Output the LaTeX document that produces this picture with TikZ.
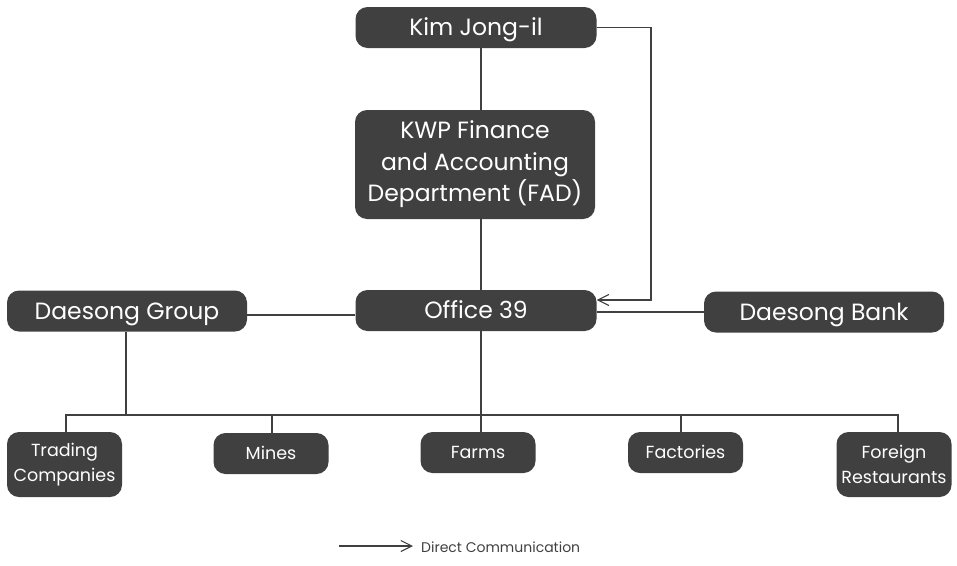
\documentclass[tikz,border=0pt]{standalone}
\usepackage{fontspec}
\setmainfont{Poppins}
\usetikzlibrary{arrows.meta}
\definecolor{boxgray}{HTML}{404040}
\definecolor{linegray}{HTML}{404040}
\begin{document}
\begin{tikzpicture}[x=1pt,y=-1pt,
  box/.style={fill=boxgray, rounded corners=12pt, text=white, align=center, inner sep=0pt,
    font=\fontsize{23.5}{31.5}\selectfont},
  bigbox/.style={box, text height=16.5pt, text depth=0pt, minimum width=241pt, minimum height=41pt},
  smallbox/.style={box, minimum width=115pt, font=\fontsize{17.5}{25.5}\selectfont},
  smallone/.style={smallbox, text height=12.3pt, text depth=0pt, minimum height=41pt},
  conn/.style={draw=linegray, line width=1.2pt},
  dircomm/.style={conn, -{Straight Barb[length=11pt,width=11pt,line width=1.1pt]}}]
\useasboundingbox (0,0) rectangle (957,565);

\node[bigbox] (kim) at (476,27.5) {Kim Jong-il};
\node[box, minimum width=240pt, minimum height=109pt] (fad) at (475,164.5) {KWP Finance\\and Accounting\\Department (FAD)};
\node[bigbox] (o39) at (476,310.5) {Office 39};
\node[bigbox, minimum width=240pt] (dg) at (127,311) {Daesong Group};
\node[bigbox, minimum width=240pt] (db) at (824,312) {Daesong Bank};

\node[smallbox, minimum height=65pt] (tc) at (64.5,464.5) {Trading\\Companies};
\node[smallone] (mines) at (271,453.5) {Mines};
\node[smallone] (farms) at (478,452.5) {Farms};
\node[smallone] (fact) at (685.5,452.5) {Factories};
\node[smallbox, minimum height=65pt] (fr) at (894,464.5) {Foreign\\Restaurants};

% vertical spine
\coordinate (sp) at (481,0);
\draw[conn] (sp |- kim.south) -- (sp |- fad.north);
\draw[conn] (sp |- fad.south) -- (sp |- o39.north);
\draw[conn] (sp |- o39.south) -- (sp |- farms.north);

% direct communication
\coordinate (dcx) at (651,0);
\coordinate (dcy) at (0,300);
\draw[dircomm] (kim.east) -- (dcx |- kim.east) -- (dcx |- dcy) -- (o39.east |- dcy);

% side links
\coordinate (bankY) at (0,312);
\coordinate (grpY) at (0,315);
\draw[conn] (o39.east |- bankY) -- (db.west |- bankY);
\draw[conn] (dg.east |- grpY) -- (o39.west |- grpY);

% bus
\coordinate (busL) at (66,415);
\coordinate (busR) at (898,415);
\coordinate (dgx) at (126,0);
\draw[conn] (dgx |- dg.south) -- (dgx |- busL);
\draw[conn] (busL |- tc.north) -- (busL) -- (busR) -- (busR |- fr.north);
\coordinate (mx) at (272,0);
\coordinate (fx) at (681,0);
\draw[conn] (mx |- busL) -- (mx |- mines.north);
\draw[conn] (fx |- busL) -- (fx |- fact.north);

% legend
\coordinate (legA) at (339,546);
\node[anchor=west, inner sep=0pt, font=\fontsize{14}{16}\selectfont, text=boxgray] (legT) at (421,547) {Direct Communication};
\draw[dircomm] (legA) -- ([xshift=-8pt]legT.west |- legA);
\end{tikzpicture}
\end{document}
